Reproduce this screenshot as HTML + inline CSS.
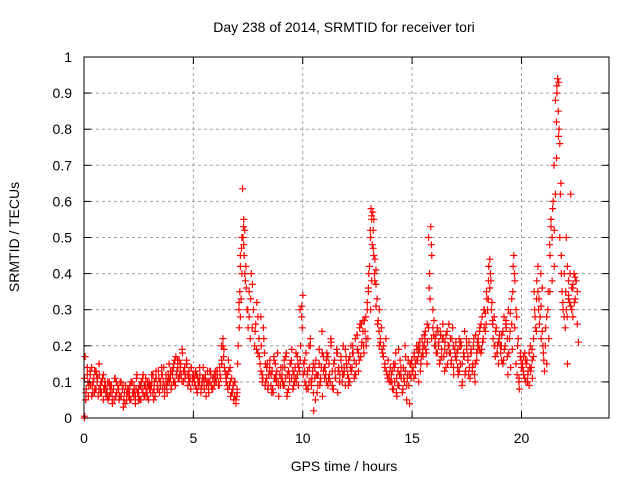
<!DOCTYPE html>
<html><head><meta charset="utf-8"><style>
body{margin:0;background:#fff;}
svg{display:block;font-family:"Liberation Sans",sans-serif;}
</style></head><body>
<svg id="chart" width="640" height="480" xmlns="http://www.w3.org/2000/svg">
<rect width="640" height="480" fill="#fff"/>
<g id="grid"></g>
<g id="points"></g>
<rect x="84" y="57" width="525" height="361" fill="none" stroke="#000" stroke-width="1"/>
<g id="ticks"></g>
<text x="344" y="32" font-size="14" text-anchor="middle">Day 238 of 2014, SRMTID for receiver tori</text>
<text x="344" y="471" font-size="14" text-anchor="middle">GPS time / hours</text>
<text x="19" y="237" font-size="14" text-anchor="middle" transform="rotate(-90 19 237)">SRMTID / TECUs</text>
</svg>
<script>
const xTicks=[0,5,10,15,20];
const yTicks=[0,0.1,0.2,0.3,0.4,0.5,0.6,0.7,0.8,0.9,1];
const yTickLabels=["0","0.1","0.2","0.3","0.4","0.5","0.6","0.7","0.8","0.9","1"];
const hours=[
0.05,0.1,0.15,0.2,0.25,0.3,0.35,0.4,0.45,0.5,0.55,0.6,0.65,0.7,0.75,0.8,0.85,0.9,0.95,1.0,0.08,0.18,0.28,0.38,0.48,0.58,0.68,0.78,0.88,0.98,
1.05,1.1,1.15,1.2,1.25,1.3,1.35,1.4,1.45,1.5,1.55,1.6,1.65,1.7,1.75,1.8,1.85,1.9,1.95,2.0,1.08,1.18,1.28,1.38,1.48,1.58,1.68,1.78,1.88,1.98,
2.05,2.1,2.15,2.2,2.25,2.3,2.35,2.4,2.45,2.5,2.55,2.6,2.65,2.7,2.75,2.8,2.85,2.9,2.95,3.0,2.08,2.18,2.28,2.38,2.48,2.58,2.68,2.78,2.88,2.98,
3.05,3.1,3.15,3.2,3.25,3.3,3.35,3.4,3.45,3.5,3.55,3.6,3.65,3.7,3.75,3.8,3.85,3.9,3.95,4.0,3.08,3.18,3.28,3.38,3.48,3.58,3.68,3.78,3.88,3.98,
4.05,4.1,4.15,4.2,4.25,4.3,4.35,4.4,4.45,4.5,4.55,4.6,4.65,4.7,4.75,4.8,4.85,4.9,4.95,5.0,4.08,4.18,4.28,4.38,4.48,4.58,4.68,4.78,4.88,4.98,
5.05,5.1,5.15,5.2,5.25,5.3,5.35,5.4,5.45,5.5,5.55,5.6,5.65,5.7,5.75,5.8,5.85,5.9,5.95,6.0,5.08,5.18,5.28,5.38,5.48,5.58,5.68,5.78,5.88,5.98,
6.05,6.1,6.15,6.2,6.25,6.3,6.35,6.4,6.45,6.5,6.55,6.6,6.65,6.7,6.75,6.8,6.85,6.9,6.95,7.0,6.08,6.18,6.28,6.38,6.48,6.58,6.68,6.78,6.88,6.98,
7.0,7.05,7.08,7.1,7.12,7.15,7.18,7.2,7.22,7.25,7.27,7.3,7.32,7.35,7.38,7.4,7.45,7.5,7.55,7.6,7.65,7.7,7.75,7.8,7.85,7.9,7.95,8.0,7.15,7.3,
8.05,8.1,8.15,8.2,8.25,8.3,8.35,8.4,8.45,8.5,8.55,8.6,8.65,8.7,8.75,8.8,8.85,8.9,8.95,9.0,8.08,8.28,8.48,8.68,8.88,8.18,8.38,8.58,8.78,8.98,
9.05,9.1,9.15,9.2,9.25,9.3,9.35,9.4,9.45,9.5,9.55,9.6,9.65,9.7,9.75,9.8,9.85,9.9,9.95,10.0,9.08,9.18,9.28,9.38,9.48,9.58,9.68,9.78,9.88,9.98,
10.05,10.1,10.15,10.2,10.25,10.3,10.35,10.4,10.45,10.5,10.55,10.6,10.65,10.7,10.75,10.8,10.85,10.9,10.95,11.0,10.08,10.18,10.28,10.38,10.48,10.58,10.68,10.78,10.88,10.98,
11.05,11.1,11.15,11.2,11.25,11.3,11.35,11.4,11.45,11.5,11.55,11.6,11.65,11.7,11.75,11.8,11.85,11.9,11.95,12.0,11.08,11.18,11.28,11.38,11.48,11.58,11.68,11.78,11.88,11.98,
12.05,12.1,12.15,12.2,12.25,12.3,12.35,12.4,12.45,12.5,12.55,12.6,12.65,12.7,12.75,12.8,12.85,12.9,12.95,13.0,12.08,12.18,12.28,12.38,12.48,12.58,12.68,12.78,12.88,12.98,
13.0,13.05,13.1,13.12,13.15,13.18,13.2,13.22,13.25,13.28,13.3,13.35,13.4,13.45,13.5,13.55,13.6,13.65,13.7,13.75,13.8,13.85,13.9,13.95,14.0,13.15,13.25,13.1,13.35,13.5,
14.05,14.1,14.15,14.2,14.25,14.3,14.35,14.4,14.45,14.5,14.55,14.6,14.65,14.7,14.75,14.8,14.85,14.9,14.95,15.0,14.08,14.18,14.28,14.38,14.48,14.58,14.68,14.78,14.88,14.98,
15.05,15.1,15.15,15.2,15.25,15.3,15.35,15.4,15.45,15.5,15.55,15.6,15.65,15.7,15.75,15.8,15.85,15.9,15.95,16.0,15.08,15.18,15.28,15.38,15.48,15.58,15.68,15.78,15.88,15.98,
16.05,16.1,16.15,16.2,16.25,16.3,16.35,16.4,16.45,16.5,16.55,16.6,16.65,16.7,16.75,16.8,16.85,16.9,16.95,17.0,16.08,16.18,16.28,16.38,16.48,16.58,16.68,16.78,16.88,16.98,
17.05,17.1,17.15,17.2,17.25,17.3,17.35,17.4,17.45,17.5,17.55,17.6,17.65,17.7,17.75,17.8,17.85,17.9,17.95,18.0,17.08,17.18,17.28,17.38,17.48,17.58,17.68,17.78,17.88,17.98,
18.05,18.1,18.15,18.2,18.25,18.3,18.35,18.4,18.45,18.5,18.55,18.6,18.65,18.7,18.75,18.8,18.85,18.9,18.95,19.0,18.08,18.18,18.28,18.38,18.48,18.58,18.68,18.78,18.88,18.98,
19.05,19.1,19.15,19.2,19.25,19.3,19.35,19.4,19.45,19.5,19.55,19.6,19.65,19.7,19.75,19.8,19.85,19.9,19.95,20.0,19.08,19.18,19.28,19.38,19.48,19.58,19.68,19.78,19.88,19.98,
20.05,20.1,20.15,20.2,20.25,20.3,20.35,20.4,20.45,20.5,20.55,20.6,20.65,20.7,20.75,20.8,20.85,20.9,20.95,21.0,20.08,20.18,20.28,20.38,20.48,20.58,20.68,20.78,20.88,20.98,
21.0,21.05,21.1,21.15,21.2,21.25,21.3,21.35,21.4,21.45,21.5,21.55,21.6,21.62,21.65,21.68,21.7,21.72,21.75,21.78,21.8,21.82,21.85,21.9,21.95,22.0,21.3,21.4,21.5,21.6,
22.05,22.1,22.15,22.2,22.25,22.3,22.35,22.4,22.45,22.5,22.55,22.6,22.05,22.15,22.25,22.35,22.45,22.55,22.1,22.3,
0.02,0.03
];
const tec=[
0.17,0.08,0.12,0.06,0.1,0.09,0.14,0.07,0.11,0.08,0.13,0.1,0.06,0.12,0.09,0.07,0.11,0.08,0.1,0.06,0.05,0.1,0.13,0.09,0.07,0.12,0.08,0.1,0.05,0.09,
0.08,0.05,0.1,0.07,0.09,0.04,0.08,0.11,0.06,0.07,0.09,0.05,0.1,0.06,0.08,0.03,0.07,0.09,0.05,0.08,0.06,0.09,0.07,0.05,0.1,0.08,0.06,0.09,0.04,0.07,
0.06,0.09,0.05,0.1,0.07,0.08,0.04,0.11,0.07,0.06,0.09,0.05,0.08,0.12,0.06,0.09,0.07,0.1,0.05,0.08,0.07,0.1,0.06,0.08,0.05,0.09,0.11,0.06,0.08,0.1,
0.07,0.1,0.12,0.08,0.06,0.11,0.09,0.13,0.07,0.1,0.12,0.08,0.14,0.09,0.11,0.07,0.12,0.1,0.13,0.09,0.09,0.05,0.11,0.08,0.1,0.12,0.06,0.09,0.11,0.08,
0.12,0.15,0.1,0.17,0.13,0.11,0.16,0.14,0.12,0.18,0.1,0.14,0.12,0.15,0.09,0.13,0.11,0.14,0.1,0.12,0.14,0.09,0.16,0.12,0.1,0.13,0.15,0.11,0.08,0.12,
0.1,0.13,0.08,0.11,0.09,0.12,0.07,0.1,0.14,0.08,0.11,0.09,0.13,0.07,0.1,0.12,0.08,0.11,0.09,0.13,0.12,0.07,0.1,0.09,0.11,0.06,0.1,0.13,0.08,0.1,
0.1,0.12,0.09,0.14,0.11,0.15,0.22,0.19,0.13,0.1,0.12,0.16,0.09,0.06,0.11,0.08,0.05,0.1,0.04,0.07,0.13,0.09,0.2,0.17,0.12,0.08,0.14,0.07,0.1,0.06,
0.08,0.2,0.3,0.25,0.35,0.42,0.33,0.47,0.4,0.635,0.5,0.55,0.45,0.52,0.38,0.42,0.3,0.25,0.35,0.22,0.4,0.37,0.3,0.2,0.26,0.32,0.18,0.22,0.28,0.48,
0.15,0.2,0.12,0.25,0.18,0.1,0.14,0.08,0.12,0.16,0.09,0.13,0.07,0.11,0.15,0.1,0.18,0.06,0.12,0.14,0.28,0.09,0.13,0.17,0.1,0.11,0.15,0.07,0.12,0.09,
0.12,0.09,0.16,0.11,0.18,0.07,0.13,0.1,0.15,0.19,0.08,0.12,0.14,0.1,0.17,0.09,0.13,0.2,0.28,0.34,0.1,0.14,0.06,0.12,0.16,0.09,0.11,0.15,0.3,0.25,
0.15,0.1,0.18,0.12,0.08,0.14,0.22,0.09,0.13,0.02,0.11,0.16,0.07,0.12,0.19,0.1,0.14,0.06,0.17,0.11,0.13,0.08,0.2,0.1,0.15,0.05,0.12,0.09,0.24,0.14,
0.12,0.18,0.09,0.15,0.1,0.21,0.13,0.08,0.16,0.11,0.19,0.07,0.14,0.12,0.17,0.1,0.2,0.13,0.09,0.15,0.16,0.11,0.22,0.08,0.13,0.18,0.1,0.14,0.12,0.17,
0.12,0.16,0.1,0.2,0.14,0.18,0.11,0.22,0.15,0.19,0.13,0.25,0.17,0.21,0.27,0.18,0.24,0.2,0.3,0.35,0.09,0.14,0.18,0.12,0.23,0.16,0.26,0.2,0.28,0.22,
0.36,0.42,0.5,0.58,0.55,0.48,0.57,0.52,0.45,0.4,0.44,0.37,0.33,0.27,0.3,0.22,0.25,0.18,0.2,0.15,0.22,0.12,0.16,0.1,0.14,0.38,0.55,0.3,0.41,0.2,
0.12,0.08,0.15,0.1,0.18,0.06,0.13,0.09,0.16,0.11,0.07,0.14,0.1,0.17,0.05,0.12,0.09,0.15,0.11,0.13,0.1,0.14,0.07,0.19,0.12,0.08,0.2,0.11,0.04,0.16,
0.14,0.18,0.12,0.2,0.16,0.1,0.19,0.15,0.22,0.17,0.2,0.24,0.18,0.21,0.25,0.4,0.53,0.45,0.3,0.27,0.11,0.16,0.2,0.13,0.18,0.22,0.15,0.36,0.48,0.23,
0.22,0.18,0.25,0.2,0.15,0.23,0.19,0.26,0.17,0.21,0.14,0.24,0.2,0.18,0.22,0.16,0.25,0.12,0.19,0.21,0.2,0.24,0.16,0.22,0.13,0.18,0.26,0.15,0.2,0.17,
0.18,0.12,0.22,0.15,0.2,0.1,0.17,0.24,0.13,0.19,0.16,0.21,0.11,0.18,0.14,0.2,0.12,0.23,0.16,0.19,0.14,0.2,0.09,0.17,0.22,0.12,0.18,0.15,0.1,0.21,
0.2,0.25,0.18,0.28,0.22,0.3,0.24,0.35,0.3,0.42,0.44,0.38,0.32,0.22,0.28,0.17,0.25,0.2,0.15,0.23,0.24,0.19,0.3,0.26,0.33,0.4,0.27,0.2,0.18,0.22,
0.18,0.23,0.15,0.28,0.2,0.25,0.17,0.3,0.22,0.14,0.26,0.35,0.45,0.38,0.3,0.12,0.22,0.08,0.18,0.14,0.2,0.16,0.26,0.12,0.24,0.19,0.4,0.28,0.1,0.16,
0.15,0.12,0.18,0.1,0.16,0.13,0.09,0.2,0.14,0.11,0.17,0.3,0.25,0.38,0.42,0.33,0.28,0.22,0.36,0.18,0.13,0.16,0.1,0.14,0.19,0.35,0.24,0.3,0.4,0.2,
0.18,0.13,0.25,0.15,0.3,0.22,0.45,0.55,0.5,0.6,0.42,0.62,0.72,0.9,0.94,0.85,0.93,0.8,0.76,0.62,0.65,0.45,0.35,0.3,0.4,0.25,0.35,0.38,0.52,0.82,
0.3,0.15,0.38,0.32,0.62,0.36,0.28,0.4,0.33,0.38,0.26,0.21,0.5,0.34,0.31,0.37,0.39,0.35,0.42,0.3,
0.0,0.005
];
const hoursExtra=[
0.02,0.09,0.15,0.22,0.29,0.35,0.42,0.49,0.55,0.62,0.69,0.75,0.82,0.89,0.95,
1.02,1.09,1.15,1.22,1.29,1.35,1.42,1.49,1.55,1.62,1.69,1.75,1.82,1.89,1.95,
2.02,2.09,2.15,2.22,2.29,2.35,2.42,2.49,2.55,2.62,2.69,2.75,2.82,2.89,2.95,
3.02,3.09,3.15,3.22,3.29,3.35,3.42,3.49,3.55,3.62,3.69,3.75,3.82,3.89,3.95,
4.02,4.09,4.15,4.22,4.29,4.35,4.42,4.49,4.55,4.62,4.69,4.75,4.82,4.89,4.95,
5.02,5.09,5.15,5.22,5.29,5.35,5.42,5.49,5.55,5.62,5.69,5.75,5.82,5.89,5.95,
6.02,6.09,6.15,6.22,6.29,6.35,6.42,6.49,6.55,6.62,6.69,6.75,6.82,6.89,6.95,
7.02,7.09,7.15,7.22,7.29,7.35,7.42,7.49,7.55,7.62,7.69,7.75,7.82,7.89,7.95,
8.02,8.09,8.15,8.22,8.29,8.35,8.42,8.49,8.55,8.62,8.69,8.75,8.82,8.89,8.95,
9.02,9.09,9.15,9.22,9.29,9.35,9.42,9.49,9.55,9.62,9.69,9.75,9.82,9.89,9.95,
10.02,10.09,10.15,10.22,10.29,10.35,10.42,10.49,10.55,10.62,10.69,10.75,10.82,10.89,10.95,
11.02,11.09,11.15,11.22,11.29,11.35,11.42,11.49,11.55,11.62,11.69,11.75,11.82,11.89,11.95,
12.02,12.09,12.15,12.22,12.29,12.35,12.42,12.49,12.55,12.62,12.69,12.75,12.82,12.89,12.95,
13.02,13.09,13.15,13.22,13.29,13.35,13.42,13.49,13.55,13.62,13.69,13.75,13.82,13.89,13.95,
14.02,14.09,14.15,14.22,14.29,14.35,14.42,14.49,14.55,14.62,14.69,14.75,14.82,14.89,14.95,
15.02,15.09,15.15,15.22,15.29,15.35,15.42,15.49,15.55,15.62,15.69,15.75,15.82,15.89,15.95,
16.02,16.09,16.15,16.22,16.29,16.35,16.42,16.49,16.55,16.62,16.69,16.75,16.82,16.89,16.95,
17.02,17.09,17.15,17.22,17.29,17.35,17.42,17.49,17.55,17.62,17.69,17.75,17.82,17.89,17.95,
18.02,18.09,18.15,18.22,18.29,18.35,18.42,18.49,18.55,18.62,18.69,18.75,18.82,18.89,18.95,
19.02,19.09,19.15,19.22,19.29,19.35,19.42,19.49,19.55,19.62,19.69,19.75,19.82,19.89,19.95,
20.02,20.09,20.15,20.22,20.29,20.35,20.42,20.49,20.55,20.62,20.69,20.75,20.82,20.89,20.95,
21.02,21.09,21.15,21.22,21.29,21.35,21.42,21.49,21.55,21.62,21.69,21.75,21.82,21.89,21.95,
22.02,22.09,22.15,22.22,22.29,22.35,22.42,22.49
];
const tecExtra=[
0.11,0.07,0.14,0.09,0.12,0.06,0.1,0.13,0.08,0.11,0.15,0.07,0.1,0.12,0.08,
0.07,0.1,0.06,0.09,0.05,0.08,0.11,0.07,0.09,0.06,0.1,0.08,0.05,0.09,0.07,
0.08,0.05,0.1,0.07,0.09,0.06,0.12,0.08,0.05,0.1,0.07,0.09,0.11,0.06,0.09,
0.09,0.12,0.07,0.1,0.13,0.08,0.11,0.09,0.14,0.1,0.08,0.12,0.1,0.15,0.11,
0.13,0.1,0.16,0.12,0.14,0.11,0.15,0.19,0.13,0.11,0.16,0.12,0.1,0.14,0.11,
0.11,0.09,0.12,0.1,0.14,0.08,0.11,0.09,0.12,0.1,0.08,0.13,0.09,0.11,0.12,
0.11,0.13,0.1,0.12,0.16,0.2,0.14,0.11,0.09,0.13,0.1,0.07,0.09,0.06,0.05,
0.15,0.32,0.45,0.5,0.53,0.4,0.36,0.3,0.28,0.33,0.25,0.3,0.24,0.19,0.28,
0.17,0.13,0.1,0.22,0.15,0.11,0.09,0.14,0.12,0.08,0.16,0.11,0.13,0.09,0.12,
0.11,0.14,0.09,0.17,0.12,0.08,0.15,0.11,0.13,0.1,0.18,0.12,0.14,0.16,0.31,
0.12,0.16,0.09,0.13,0.1,0.2,0.11,0.07,0.14,0.12,0.09,0.15,0.11,0.18,0.13,
0.14,0.1,0.17,0.12,0.2,0.09,0.15,0.11,0.18,0.13,0.1,0.16,0.12,0.14,0.19,
0.14,0.11,0.17,0.13,0.2,0.16,0.12,0.23,0.18,0.26,0.2,0.24,0.27,0.22,0.32,
0.4,0.52,0.56,0.47,0.38,0.31,0.26,0.24,0.21,0.19,0.17,0.14,0.13,0.11,0.12,
0.1,0.13,0.08,0.15,0.11,0.09,0.12,0.14,0.07,0.11,0.13,0.09,0.16,0.12,0.15,
0.13,0.17,0.15,0.19,0.18,0.21,0.17,0.2,0.23,0.19,0.26,0.5,0.33,0.22,0.25,
0.2,0.23,0.18,0.21,0.24,0.17,0.22,0.19,0.23,0.15,0.2,0.18,0.22,0.14,0.19,
0.16,0.19,0.13,0.21,0.15,0.18,0.12,0.2,0.17,0.14,0.19,0.13,0.22,0.15,0.18,
0.22,0.19,0.26,0.21,0.25,0.29,0.33,0.38,0.36,0.3,0.26,0.2,0.24,0.18,0.21,
0.2,0.16,0.24,0.19,0.27,0.22,0.18,0.29,0.33,0.42,0.25,0.15,0.2,0.11,0.17,
0.14,0.17,0.11,0.15,0.12,0.18,0.13,0.16,0.22,0.28,0.33,0.35,0.26,0.31,0.24,
0.16,0.2,0.28,0.35,0.48,0.53,0.58,0.7,0.88,0.92,0.78,0.5,0.4,0.32,0.28,
0.35,0.28,0.33,0.4,0.3,0.36,0.32,0.38
];
const X0=84,X1=609,Y0=418,Y1=57,XMAX=24;
function xs(h){return X0+(X1-X0)*h/XMAX;}
function ys(v){return Y0-(Y0-Y1)*v;}
const NS="http://www.w3.org/2000/svg";
const grid=document.getElementById('grid'),ticks=document.getElementById('ticks'),pts=document.getElementById('points');
function mk(tag,attrs,parent){const e=document.createElementNS(NS,tag);for(const k in attrs)e.setAttribute(k,attrs[k]);parent.appendChild(e);return e;}
yTicks.forEach((v,i)=>{
  const y=ys(v);
  if(i>0&&i<yTicks.length-1){const g=mk('line',{x1:X0,x2:X1,y1:y,y2:y,stroke:'#a0a0a0','stroke-dasharray':'3,3'},grid);
    
    }
  const t1=mk('line',{x1:X0,x2:X0+7,y1:y,y2:y,stroke:'#000'},ticks);
  
  
  const t2=mk('line',{x1:X1-7,x2:X1,y1:y,y2:y,stroke:'#000'},ticks);
  
  
  const l=mk('text',{x:72,y:y+5,'font-size':14,'text-anchor':'end'},ticks);
  l.textContent=yTickLabels[i];
  
  
});
xTicks.forEach(h=>{
  const x=xs(h);
  if(h>0){const g=mk('line',{x1:x,x2:x,y1:Y0,y2:Y1,stroke:'#a0a0a0','stroke-dasharray':'3,3'},grid);
    
    }
  const t1=mk('line',{x1:x,x2:x,y1:Y0,y2:Y0-7,stroke:'#000'},ticks);
  
  
  const t2=mk('line',{x1:x,x2:x,y1:Y1,y2:Y1+7,stroke:'#000'},ticks);
  
  
  const l=mk('text',{x:x,y:443,'font-size':14,'text-anchor':'middle'},ticks);
  l.textContent=String(h);
  
  
});
function plus(hs,vs){let d='';for(let i=0;i<hs.length;i++){const x=xs(hs[i]),y=ys(vs[i]);d+=`M${(x-3.5).toFixed(1)} ${y.toFixed(1)}h7M${x.toFixed(1)} ${(y-3.5).toFixed(1)}v7`;}return d;}
const p=mk('path',{d:plus(hours,tec)+plus(hoursExtra,tecExtra),stroke:'#ff0000','stroke-width':1.2,fill:'none'},pts);


</script>
</body></html>
